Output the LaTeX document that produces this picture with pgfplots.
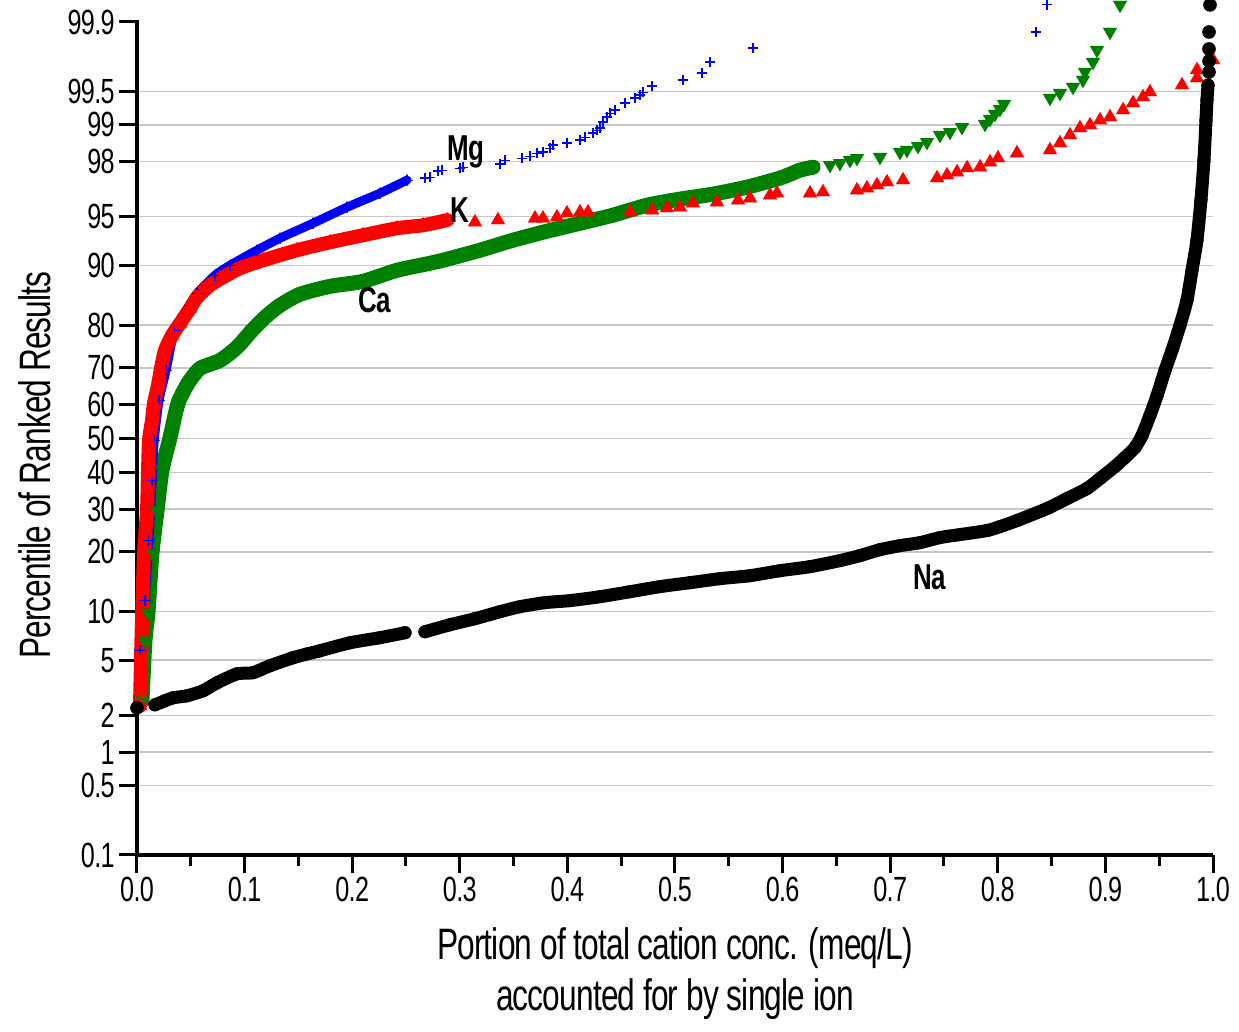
\documentclass[border=0pt]{standalone}
\usepackage{fontspec}
\setmainfont{Liberation Sans}[FakeStretch=0.72,LetterSpace=-2]
\usepackage{pgfplots}
\pgfplotsset{compat=1.18}
\definecolor{mgblue}{RGB}{0,0,255}
\definecolor{kred}{RGB}{255,0,0}
\definecolor{cagreen}{RGB}{0,128,0}
\definecolor{gridgray}{RGB}{200,200,200}

\begin{document}
\begin{tikzpicture}
\useasboundingbox (-68.5pt,-88.5pt) rectangle (551pt,427.5pt);
\begin{axis}[
  at={(0,0)}, anchor=south west,
  scale only axis, width=538pt, height=417.5pt,
  xmin=0, xmax=1, ymin=-3.0902, ymax=3.105,
  clip=false,
  axis x line*=bottom, axis y line*=left,
  axis line style={line width=1.7pt,-},
  xtick={0,0.1,0.2,0.3,0.4,0.5,0.6,0.7,0.8,0.9,1},
  xticklabels={0.0,0.1,0.2,0.3,0.4,0.5,0.6,0.7,0.8,0.9,1.0},
  minor x tick num=1,
  % y axis is a normal-probability scale: positions are normal quantiles
  ytick={-3.0902,-2.5758,-2.3263,-2.0537,-1.6449,-1.2816,-0.8416,-0.5244,
         -0.2533,0,0.2533,0.5244,0.8416,1.2816,1.6449,2.0537,2.3263,2.5758},
  yticklabels={0.1,0.5,1,2,5,10,20,30,40,50,60,70,80,90,95,98,99,99.5},
  extra y ticks={3.0902}, extra y tick labels={99.9},
  extra y tick style={grid=none},
  ymajorgrids, grid style={gridgray,line width=0.7pt},
  tick align=outside, major tick length=9pt, minor tick length=5.5pt,
  tick style={line width=1.5pt,black},
  tick label style={font=\fontsize{17.5}{18}\selectfont, inner sep=2pt},
  /pgf/number format/assume math mode=true,
  xlabel={Portion of total cation conc. (meq/L)\\accounted for by single ion},
  xlabel style={font=\fontsize{22}{25.5}\selectfont, align=center,
    at={(axis description cs:0.5,0)}, anchor=north, yshift=-33pt},
  ylabel={Percentile of Ranked Results},
  ylabel style={font=\fontsize{22}{24}\selectfont,
    at={(axis description cs:-0.0948,0.467)}, anchor=center},
  band/.style={smooth, tension=0.4, line join=round, line cap=round},
]

% ---- Ca ----
\addplot[cagreen, band, line width=7.5pt,
  mark=triangle*, mark size=4pt, mark options={solid,rotate=180,line width=0.1pt}]
  coordinates {
  (0.0046,-1.946) (0.0074,-1.501) (0.0102,-1.293) (0.0139,-0.854) (0.0186,-0.535)
  (0.0232,-0.238) (0.0307,0.007) (0.0381,0.260) (0.0474,0.409) (0.0586,0.520)
  (0.0771,0.579) (0.0929,0.676) (0.1069,0.802) (0.1190,0.899) (0.1329,0.988)
  (0.1515,1.070) (0.1794,1.129) (0.2100,1.166) (0.2416,1.248) (0.2723,1.300)
  (0.2881,1.330) (0.3188,1.397) (0.3494,1.471) (0.3810,1.538) (0.4117,1.597)
  (0.4424,1.657) (0.4740,1.731) (0.5046,1.776) (0.5353,1.813) (0.5669,1.865)
  (0.5976,1.932) (0.6162,1.991) (0.6283,2.013)};
\addplot[only marks, cagreen, mark=triangle*, mark size=4pt,
  mark options={rotate=180,line width=0.1pt}]
  coordinates {
  (0.6441,2.028) (0.6533,2.043) (0.6626,2.065) (0.6691,2.080) (0.6905,2.088)
  (0.7091,2.125) (0.7156,2.140) (0.7258,2.169) (0.7342,2.199) (0.7463,2.251)
  (0.7556,2.273) (0.7667,2.310) (0.7881,2.333) (0.7928,2.370) (0.7974,2.407)
  (0.8020,2.444) (0.8058,2.481) (0.8485,2.526) (0.8578,2.563) (0.8699,2.608)
  (0.8792,2.660) (0.8810,2.719) (0.8885,2.793) (0.8922,2.882) (0.9043,3.016)
  (0.9136,3.217)};

% ---- Mg ----
\addplot[mgblue, band, line width=4.5pt,
  mark=+, mark size=2.6pt, mark options={solid,line width=0.6pt}]
  coordinates {
  (0.0009,-1.998) (0.0028,-1.575) (0.0074,-1.203) (0.0110,-0.758) (0.0140,-0.312)
  (0.0160,-0.015) (0.0205,0.282) (0.0270,0.505) (0.0350,0.802) (0.0493,0.988)
  (0.0558,1.077) (0.0725,1.211) (0.0864,1.285) (0.1115,1.397) (0.1329,1.486)
  (0.1636,1.597) (0.1952,1.716) (0.2258,1.820) (0.2509,1.917)};
\addplot[only marks, mgblue, mark=+, mark size=2.6pt, mark options={line width=0.6pt}]
  coordinates {
  (0.2677,1.932) (0.2723,1.939) (0.2797,1.984) (0.2835,1.991) (0.3002,2.006)
  (0.3030,2.013) (0.3374,2.036) (0.3420,2.065) (0.3578,2.080) (0.3652,2.095)
  (0.3717,2.117) (0.3773,2.125) (0.3838,2.154) (0.3866,2.177) (0.3996,2.192)
  (0.4117,2.214) (0.4164,2.236) (0.4238,2.266) (0.4275,2.288) (0.4303,2.303)
  (0.4331,2.348) (0.4368,2.385) (0.4396,2.414) (0.4442,2.437) (0.4535,2.489)
  (0.4628,2.526) (0.4675,2.548) (0.4703,2.570) (0.4786,2.615) (0.5074,2.660)
  (0.5251,2.712) (0.5325,2.793) (0.5725,2.897) (0.8355,3.016) (0.8457,3.217)};

% ---- K ----
\addplot[kred, band, line width=7pt,
  mark=triangle*, mark size=4pt, mark options={solid,line width=0.1pt}]
  coordinates {
  (0.0028,-1.984) (0.0037,-1.649) (0.0046,-1.352) (0.0065,-0.854) (0.0093,-0.535)
  (0.0102,-0.260) (0.0112,-0.015) (0.0139,0.134) (0.0158,0.260) (0.0195,0.394)
  (0.0223,0.520) (0.0260,0.654) (0.0325,0.765) (0.0400,0.854) (0.0493,0.966)
  (0.0558,1.047) (0.0678,1.137) (0.0799,1.196) (0.0957,1.263) (0.1171,1.322)
  (0.1487,1.397) (0.1794,1.456) (0.2100,1.508) (0.2416,1.560) (0.2658,1.582)
  (0.2881,1.620)};
\addplot[only marks, kred, mark=triangle*, mark size=4pt, mark options={line width=0.1pt}]
  coordinates {
  (0.3141,1.605) (0.3355,1.620) (0.3699,1.634) (0.3773,1.634) (0.3903,1.642)
  (0.3996,1.672) (0.4117,1.679) (0.4191,1.679) (0.4582,1.679) (0.4786,1.694)
  (0.4926,1.709) (0.5046,1.716) (0.5167,1.746) (0.5390,1.753) (0.5586,1.768)
  (0.5697,1.783) (0.5883,1.805) (0.5948,1.820) (0.6255,1.820) (0.6375,1.828)
  (0.6691,1.842) (0.6784,1.857) (0.6877,1.880) (0.6970,1.902) (0.7119,1.917)
  (0.7435,1.932) (0.7528,1.954) (0.7621,1.976) (0.7714,2.006) (0.7835,2.013)
  (0.7928,2.050) (0.8002,2.080) (0.8178,2.117) (0.8485,2.140) (0.8578,2.192)
  (0.8671,2.251) (0.8764,2.303) (0.8857,2.325) (0.8950,2.362) (0.9043,2.385)
  (0.9164,2.437) (0.9257,2.489) (0.9349,2.533) (0.9414,2.570) (0.9712,2.622)
  (0.9851,2.674) (0.9851,2.734) (1.0000,2.808)};

% ---- Na ----
\addplot[only marks, black, mark=*, mark size=3.2pt] coordinates {(0,-1.998)};
\addplot[black, band, line width=6.5pt,
  mark=*, mark size=3.2pt, mark options={solid,line width=0.1pt}]
  coordinates {
  (0.0167,-1.976) (0.0260,-1.946) (0.0335,-1.924) (0.0465,-1.909) (0.0613,-1.872)
  (0.0743,-1.813) (0.0929,-1.746) (0.1078,-1.738) (0.1236,-1.686) (0.1449,-1.627)
  (0.1589,-1.597) (0.1700,-1.575) (0.1979,-1.516) (0.2258,-1.478) (0.2491,-1.441)};
\addplot[black, band, line width=6.5pt,
  mark=*, mark size=3.2pt, mark options={solid,line width=0.1pt}]
  coordinates {
  (0.2676,-1.434) (0.2909,-1.382) (0.3141,-1.337) (0.3374,-1.285) (0.3559,-1.248)
  (0.3792,-1.218) (0.4024,-1.203) (0.4303,-1.174) (0.4582,-1.137) (0.4861,-1.099)
  (0.5139,-1.070) (0.5418,-1.040) (0.5697,-1.018) (0.5976,-0.981) (0.6255,-0.951)
  (0.6533,-0.906) (0.6719,-0.869) (0.6905,-0.825) (0.7091,-0.795) (0.7277,-0.773)
  (0.7463,-0.735) (0.7649,-0.713) (0.7900,-0.683) (0.8020,-0.654) (0.8178,-0.609)
  (0.8457,-0.520) (0.8643,-0.446) (0.8829,-0.371) (0.8950,-0.297) (0.9089,-0.208)
  (0.9182,-0.141) (0.9275,-0.067) (0.9340,0.022) (0.9414,0.171) (0.9480,0.319)
  (0.9554,0.505) (0.9619,0.654) (0.9693,0.839) (0.9758,1.025) (0.9805,1.248)
  (0.9851,1.471) (0.9888,1.768) (0.9916,2.065) (0.9935,2.362) (0.9944,2.511)
  (0.9954,2.622)};
\addplot[only marks, black, mark=*, mark size=3.2pt]
  coordinates {(0.9963,2.719) (0.9963,2.801) (0.9963,2.890) (0.9963,3.016) (0.9972,3.217)};

% ---- series labels ----
\node[font=\fontsize{18}{20}\selectfont\bfseries] at (axis cs:0.3058,2.125) {Mg};
\node[font=\fontsize{18}{20}\selectfont\bfseries] at (axis cs:0.2998,1.694) {K};
\node[font=\fontsize{18}{20}\selectfont\bfseries] at (axis cs:0.2212,1.025) {Ca};
\node[font=\fontsize{18}{20}\selectfont\bfseries] at (axis cs:0.7370,-1.033) {Na};
\end{axis}
\end{tikzpicture}
\end{document}
